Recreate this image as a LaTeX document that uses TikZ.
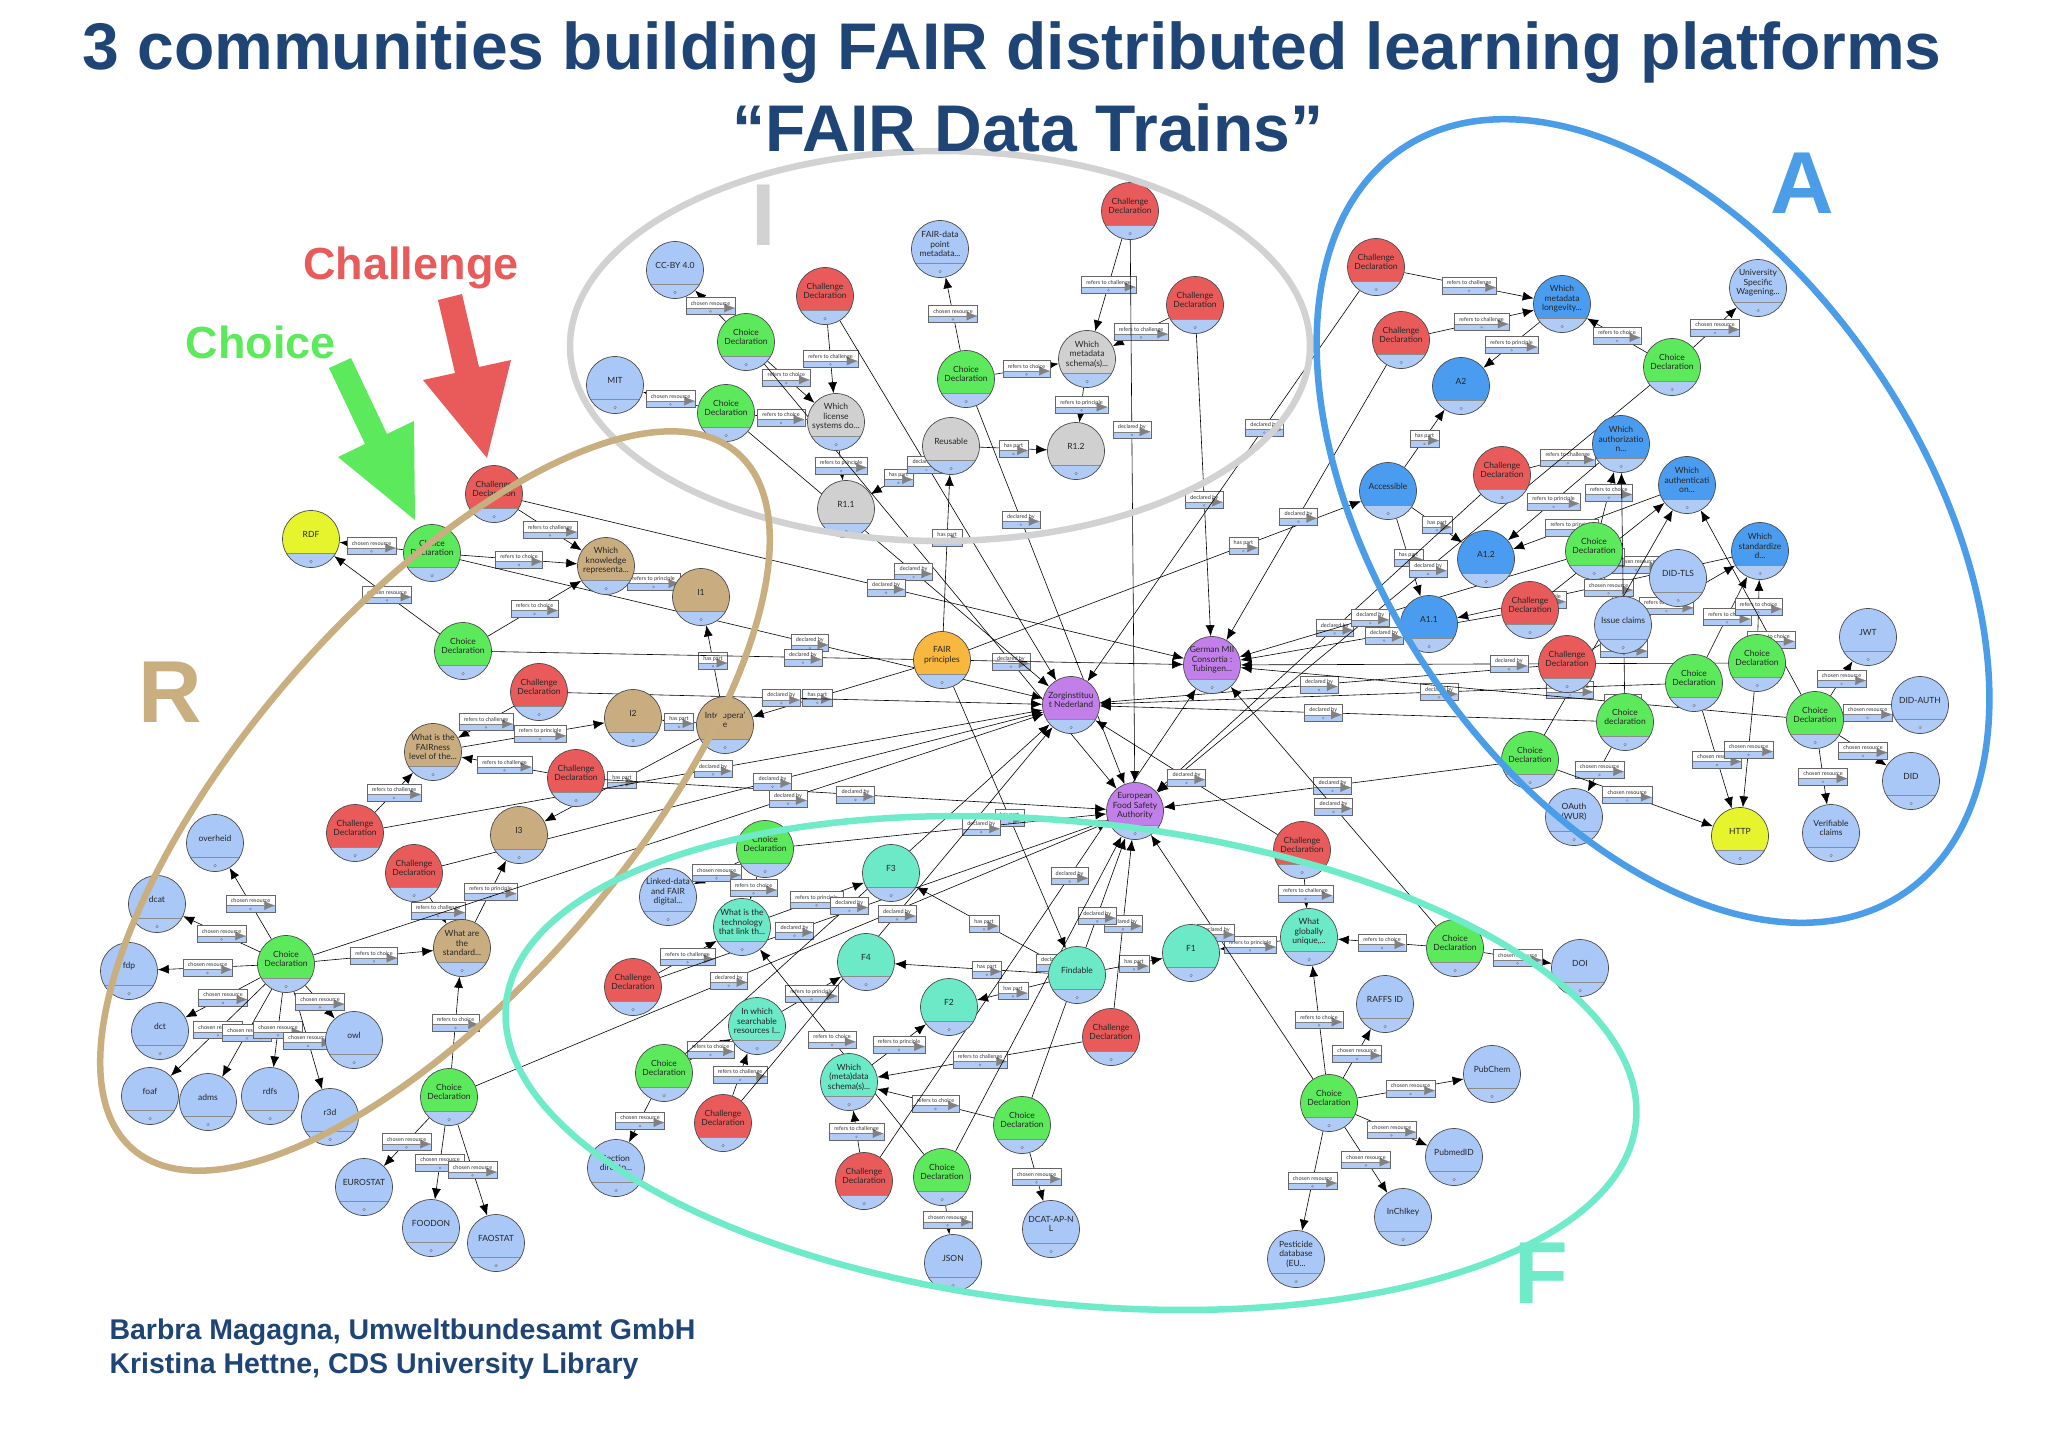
\documentclass[tikz,border=0pt]{standalone}
\usepackage{fontspec}
\setmainfont{Lato}
\newfontfamily\headfont{Liberation Sans}
\usetikzlibrary{arrows.meta,shapes}
\pgfdeclarelayer{bg}
\pgfdeclarelayer{fg}
\pgfsetlayers{bg,main,fg}
\definecolor{chred}{HTML}{E95B5B}
\definecolor{chgreen}{HTML}{5CEA5C}
\definecolor{resblue}{HTML}{A9C8F8}
\definecolor{stripe}{HTML}{AFCBF6}
\definecolor{qblue}{HTML}{4A9CF0}
\definecolor{greyq}{HTML}{D0D0D0}
\definecolor{tanq}{HTML}{C9AD80}
\definecolor{tealq}{HTML}{6CE9C7}
\definecolor{purpq}{HTML}{C27FE9}
\definecolor{orangeq}{HTML}{F8B73F}
\definecolor{yellowq}{HTML}{E6F42E}
\definecolor{titleblue}{HTML}{1F4476}
\definecolor{ringA}{HTML}{4B9DE8}
\definecolor{ringI}{HTML}{D2D2D2}
\definecolor{ringR}{HTML}{C9AF80}
\definecolor{ringF}{HTML}{6FEBC9}
\tikzstyle{knot} = [circle, draw=black!70, line width=0.7pt, minimum size=57pt, inner sep=0pt,
  path picture={\fill[stripe] (path picture bounding box.south west) rectangle ([yshift=14pt]path picture bounding box.south east);
  \draw[black!45, line width=0.4pt] ([yshift=14pt]path picture bounding box.south west) -- ([yshift=14pt]path picture bounding box.south east);
  \draw[black!55, line width=0.3pt] ([yshift=6pt]path picture bounding box.south) circle (1.3pt);}]
\tikzstyle{ktext} = [align=center, font=\fontsize{8.5}{9.5}\selectfont, text=black!85, inner sep=0pt, yshift=5pt]
\tikzstyle{chal} = [knot, fill=chred, label={[ktext]center:{Challenge\\Declaration}}]
\tikzstyle{choi} = [knot, fill=chgreen, label={[ktext]center:{Choice\\Declaration}}]
\tikzstyle{res} = [knot, fill=resblue]
\tikzstyle{elab} = [rectangle, draw=black!60, fill=white, line width=0.4pt, inner xsep=5pt, inner ysep=1pt,
  minimum height=17pt, font=\fontsize{5.5}{6}\selectfont, text=black!80, text height=4pt, text depth=6pt,
  path picture={\fill[stripe] (path picture bounding box.south west) rectangle ([yshift=6.5pt]path picture bounding box.south east);
  \draw[black!50, line width=0.3pt] ([yshift=6.5pt]path picture bounding box.south west) -- ([yshift=6.5pt]path picture bounding box.south east);
  \draw[black!50, line width=0.3pt] ([yshift=3.2pt]path picture bounding box.south) circle (1pt);}]
\tikzstyle{arrow} = [line width=0.6pt, -{Latex[length=11pt,width=9pt]}]
\tikzstyle{ring} = [line width=6.5pt]
\tikzstyle{letter} = [font=\headfont\bfseries\fontsize{88}{90}\selectfont]

\begin{document}
\begin{tikzpicture}[x=1pt,y=-1pt]
\useasboundingbox (0,0) rectangle (2048,1448);

\node[res, label={[ktext]center:{CC-BY 4.0}}] (ccby) at (675,270) {};
\node[chal] (chI1) at (825,296) {};
\node[choi] (chcI1) at (746,342) {};
\node[res, label={[ktext]center:MIT}] (mit) at (615,385) {};
\node[choi] (chcI2) at (726,413) {};
\node[knot, fill=greyq, label={[ktext]center:{Which\\license\\systems do...}}] (qlic) at (836,422) {};
\node[res, label={[ktext]center:{FAIR-data\\point\\metadata...}}] (fairdp) at (940,249) {};
\node[choi] (chcI3) at (966,379) {};
\node[chal] (chI2) at (1130,211) {};
\node[knot, fill=greyq, label={[ktext]center:{Which\\metadata\\schema(s)...}}] (qmeta) at (1087,359) {};
\node[chal] (chI3) at (1195,305) {};
\node[knot, fill=greyq, label={[ktext]center:Reusable}] (reus) at (951,446) {};
\node[knot, fill=greyq, label={[ktext]center:R1.2}] (r12) at (1076,451) {};
\node[knot, fill=greyq, label={[ktext]center:R1.1}] (r11) at (846,509) {};

\node[knot, fill=orangeq, label={[ktext]center:{FAIR\\principles}}] (fairp) at (942,660) {};
\node[knot, fill=purpq, label={[ktext]center:{Zorginstituu\\t Nederland}}] (zorg) at (1071,705) {};
\node[knot, fill=purpq, label={[ktext]center:{German MII\\Consortia :\\Tubingen...}}] (gmii) at (1212,665) {};
\node[knot, fill=purpq, label={[ktext]center:{European\\Food Safety\\Authority}}] (efsa) at (1135,811) {};

\node[chal] (chA1) at (1376,267) {};
\node[chal] (chA2) at (1401,340) {};
\node[knot, fill=qblue, label={[ktext]center:{Which\\metadata\\longevity...}}] (qlong) at (1562,304) {};
\node[knot, fill=qblue, label={[ktext]center:A2}] (a2) at (1461,386) {};
\node[res, label={[ktext]center:{University\\Specific\\Wagening...}}] (univ) at (1758,288) {};
\node[choi] (chcA1) at (1672,367) {};
\node[knot, fill=qblue, label={[ktext]center:Accessible}] (acc) at (1388,491) {};
\node[knot, fill=qblue, label={[ktext]center:{Which\\authorizatio\\n...}}] (qauthz) at (1621,444) {};
\node[chal] (chA3) at (1502,475) {};
\node[knot, fill=qblue, label={[ktext]center:{Which\\authenticati\\on...}}] (qauthn) at (1687,485) {};
\node[knot, fill=qblue, label={[ktext]center:A1.2}] (a12) at (1486,559) {};
\node[choi] (chcA2) at (1594,551) {};
\node[res, label={[ktext]center:DID-TLS}] (didtls) at (1678,578) {};
\node[knot, fill=qblue, label={[ktext]center:{Which\\standardize\\d...}}] (qstd) at (1760,551) {};
\node[knot, fill=qblue, label={[ktext]center:A1.1}] (a11) at (1429,624) {};
\node[chal] (chA4) at (1530,610) {};
\node[res, label={[ktext]center:{Issue claims}}] (issue) at (1623,625) {};
\node[chal] (chA5) at (1567,664) {};
\node[choi] (chcA3) at (1694,683) {};
\node[choi] (chcA4) at (1757,663) {};
\node[knot, fill=chgreen, label={[ktext]center:{Choice\\declaration}}] (chcA5) at (1625,722) {};
\node[choi] (chcA6) at (1815,720) {};
\node[choi] (chcA7) at (1530,760) {};
\node[res, label={[ktext]center:{OAuth\\(WUR)}}] (oauth) at (1574,817) {};
\node[knot, fill=yellowq, label={[ktext]center:HTTP}] (http) at (1740,836) {};
\node[res, label={[ktext]center:{Verifiable\\claims}}] (verif) at (1831,833) {};
\node[res, label={[ktext]center:JWT}] (jwt) at (1868,637) {};
\node[res, label={[ktext]center:DID-AUTH}] (didauth) at (1920,705) {};
\node[res, label={[ktext]center:DID}] (did) at (1911,781) {};

\node[chal] (chR1) at (494,494) {};
\node[knot, fill=yellowq, label={[ktext]center:RDF}] (rdf) at (311,539) {};
\node[choi] (chcR1) at (432,553) {};
\node[knot, fill=tanq, label={[ktext]center:{Which\\knowledge\\representa...}}] (qknow) at (606,566) {};
\node[knot, fill=tanq, label={[ktext]center:I1}] (i1) at (701,597) {};
\node[choi] (chcR2) at (463,651) {};
\node[chal] (chR2) at (539,692) {};
\node[knot, fill=tanq, label={[ktext]center:I2}] (i2) at (633,718) {};
\node[knot, fill=tanq, label={[ktext]center:{Interopera'\\e}}] (interop) at (725,725) {};
\node[knot, fill=tanq, label={[ktext]center:{What is the\\FAIRness\\level of the...}}] (qfair) at (433,752) {};
\node[chal] (chR3) at (576,778) {};
\node[chal] (chR4) at (355,833) {};
\node[knot, fill=tanq, label={[ktext]center:I3}] (i3) at (519,835) {};
\node[chal] (chR5) at (414,873) {};
\node[res, label={[ktext]center:overheid}] (overheid) at (215,843) {};
\node[res, label={[ktext]center:dcat}] (dcat) at (157,904) {};
\node[res, label={[ktext]center:fdp}] (fdp) at (129,971) {};
\node[choi] (chcR3) at (286,964) {};
\node[knot, fill=tanq, label={[ktext]center:{What are\\the\\standard...}}] (qstdR) at (462,948) {};
\node[res, label={[ktext]center:dct}] (dct) at (160,1031) {};
\node[res, label={[ktext]center:owl}] (owl) at (354,1040) {};
\node[res, label={[ktext]center:foaf}] (foaf) at (150,1096) {};
\node[res, label={[ktext]center:adms}] (adms) at (208,1102) {};
\node[res, label={[ktext]center:rdfs}] (rdfs) at (270,1096) {};
\node[res, label={[ktext]center:r3d}] (r3d) at (330,1117) {};
\node[choi] (chcR4) at (449,1097) {};
\node[res, label={[ktext]center:EUROSTAT}] (eurostat) at (364,1187) {};
\node[res, label={[ktext]center:FOODON}] (foodon) at (431,1228) {};
\node[res, label={[ktext]center:FAOSTAT}] (faostat) at (496,1243) {};

\node[choi] (chcF1) at (765,849) {};
\node[res, label={[ktext]center:{Linked-data\\and FAIR\\digital...}}] (linked) at (668,897) {};
\node[knot, fill=tealq, label={[ktext]center:F3}] (f3) at (891,873) {};
\node[knot, fill=tealq, label={[ktext]center:{What is the\\technology\\that link th...}}] (qtech) at (742,927) {};
\node[chal] (chF1) at (633,987) {};
\node[knot, fill=tealq, label={[ktext]center:F4}] (f4) at (866,962) {};
\node[knot, fill=tealq, label={[ktext]center:Findable}] (findable) at (1077,975) {};
\node[knot, fill=tealq, label={[ktext]center:F2}] (f2) at (949,1007) {};
\node[knot, fill=tealq, label={[ktext]center:F1}] (f1) at (1191,953) {};
\node[knot, fill=tealq, label={[ktext]center:{In which\\searchable\\resources I...}}] (qsearch) at (757,1026) {};
\node[choi] (chcF2) at (664,1073) {};
\node[chal] (chF2) at (1111,1037) {};
\node[knot, fill=tealq, label={[ktext]center:{Which\\(meta)data\\schema(s)...}}] (qmetaF) at (849,1082) {};
\node[choi] (chcF3) at (1022,1125) {};
\node[chal] (chF3) at (723,1123) {};
\node[chal] (chF4) at (864,1181) {};
\node[choi] (chcF4) at (942,1177) {};
\node[res, label={[ktext]center:{Section\\directo...}}] (sectdir) at (616,1168) {};
\node[res, label={[ktext]center:JSON}] (json) at (953,1263) {};
\node[res, label={[ktext]center:{DCAT-AP-N\\L}}] (dcatap) at (1051,1229) {};
\node[chal] (chF5) at (1302,850) {};
\node[knot, fill=tealq, label={[ktext]center:{What\\globally\\unique,...}}] (qglob) at (1309,937) {};
\node[choi] (chcF5) at (1455,948) {};
\node[res, label={[ktext]center:DOI}] (doi) at (1580,968) {};
\node[res, label={[ktext]center:{RAFFS ID}}] (raffs) at (1385,1004) {};
\node[res, label={[ktext]center:PubChem}] (pubchem) at (1492,1074) {};
\node[choi] (chcF6) at (1329,1103) {};
\node[res, label={[ktext]center:PubmedID}] (pubmed) at (1454,1157) {};
\node[res, label={[ktext]center:InChIkey}] (inchi) at (1403,1217) {};
\node[res, label={[ktext]center:{Pesticide\\database\\(EU...}}] (pest) at (1296,1259) {};

\begin{pgfonlayer}{bg}
\fill[white] (0,0) rectangle (2048,1448);
\draw[arrow] (chcI1) -- node[elab]{chosen resource} (ccby);
\draw[arrow] (chcI2) -- node[elab]{chosen resource} (mit);
\draw[arrow] (chcI1) -- node[elab, pos=0.4]{refers to choice} (qlic);
\draw[arrow] (chcI2) -- node[elab]{refers to choice} (qlic);
\draw[arrow] (chI1) -- node[elab]{refers to challenge} (qlic);
\draw[arrow] (qlic) -- node[elab]{refers to principle} (r11);
\draw[arrow] (reus) -- node[elab]{has part} (r11);
\draw[arrow] (reus) -- node[elab]{has part} (r12);
\draw[arrow] (chcI3) -- node[elab]{chosen resource} (fairdp);
\draw[arrow] (chcI3) -- node[elab]{refers to choice} (qmeta);
\draw[arrow] (chI2) -- node[elab]{refers to challenge} (qmeta);
\draw[arrow] (chI3) -- node[elab]{refers to challenge} (qmeta);
\draw[arrow] (qmeta) -- node[elab]{refers to principle} (r12);
\draw[arrow] (fairp) -- node[elab, pos=0.6]{has part} (reus);
\draw[arrow] (fairp) -- node[elab, pos=0.6]{has part} (interop);
\draw[arrow] (fairp) -- node[elab, pos=0.7]{has part} (acc);
\draw[arrow] (fairp) -- node[elab, pos=0.5]{has part} (findable);

\draw[arrow] (chA1) -- node[elab]{refers to challenge} (qlong);
\draw[arrow] (chA2) -- node[elab]{refers to challenge} (qlong);
\draw[arrow] (qlong) -- node[elab]{refers to principle} (a2);
\draw[arrow] (chcA1) -- node[elab]{refers to choice} (qlong);
\draw[arrow] (chcA1) -- node[elab]{chosen resource} (univ);
\draw[arrow] (acc) -- node[elab]{has part} (a2);
\draw[arrow] (acc) -- node[elab]{has part} (a12);
\draw[arrow] (acc) -- node[elab]{has part} (a11);
\draw[arrow] (chA3) -- node[elab, pos=0.6]{refers to challenge} (qauthz);
\draw[arrow] (qauthz) -- node[elab]{refers to principle} (a12);
\draw[arrow] (qauthn) -- node[elab, pos=0.6]{refers to principle} (a12);
\draw[arrow] (qstd) -- node[elab, pos=0.7]{refers to principle} (a11);
\draw[arrow] (chcA2) -- node[elab, pos=0.6]{refers to choice} (qauthz);
\draw[arrow] (chcA2) -- node[elab]{chosen resource} (didtls);
\draw[arrow] (chcA2) -- node[elab]{chosen resource} (issue);
\draw[arrow] (chA4) -- node[elab, pos=0.4]{refers to challenge} (qauthn);
\draw[arrow] (chA5) -- node[elab, pos=0.52]{refers to challenge} (qstd);
\draw[arrow] (chcA5) -- node[elab, pos=0.2]{refers to choice} (qauthz);
\draw[arrow] (chcA5) -- node[elab]{chosen resource} (oauth);
\draw[arrow] (chcA7) -- node[elab, pos=0.2]{refers to choice} (qauthn);
\draw[arrow] (chcA7) -- node[elab, pos=0.45]{chosen resource} (http);
\draw[arrow] (chcA3) -- node[elab]{refers to choice} (qstd);
\draw[arrow] (chcA3) -- node[elab]{chosen resource} (http);
\draw[arrow] (chcA4) -- node[elab]{refers to choice} (qstd);
\draw[arrow] (chcA4) -- node[elab]{chosen resource} (http);
\draw[arrow] (chcA6) -- node[elab, pos=0.3]{refers to choice} (qauthn);
\draw[arrow] (chcA6) -- node[elab]{chosen resource} (jwt);
\draw[arrow] (chcA6) -- node[elab]{chosen resource} (didauth);
\draw[arrow] (chcA6) -- node[elab]{chosen resource} (did);
\draw[arrow] (chcA6) -- node[elab]{chosen resource} (verif);

\draw[arrow] (chR1) -- node[elab]{refers to challenge} (qknow);
\draw[arrow] (chcR1) -- node[elab]{refers to choice} (qknow);
\draw[arrow] (chcR1) -- node[elab]{chosen resource} (rdf);
\draw[arrow] (chcR2) -- node[elab]{chosen resource} (rdf);
\draw[arrow] (chcR2) -- node[elab]{refers to choice} (qknow);
\draw[arrow] (qknow) -- node[elab]{refers to principle} (i1);
\draw[arrow] (interop) -- node[elab]{has part} (i1);
\draw[arrow] (interop) -- node[elab]{has part} (i2);
\draw[arrow] (interop) -- node[elab, pos=0.5]{has part} (i3);
\draw[arrow] (chR2) -- node[elab]{refers to challenge} (qfair);
\draw[arrow] (qfair) -- node[elab, pos=0.55]{refers to principle} (i2);
\draw[arrow] (chR3) -- node[elab]{refers to challenge} (qfair);
\draw[arrow] (chR4) -- node[elab]{refers to challenge} (qfair);
\draw[arrow] (chR5) -- node[elab]{refers to challenge} (qstdR);
\draw[arrow] (qstdR) -- node[elab]{refers to principle} (i3);
\draw[arrow] (chcR3) -- node[elab]{refers to choice} (qstdR);
\draw[arrow] (chcR4) -- node[elab]{refers to choice} (qstdR);
\draw[arrow] (chcR3) -- node[elab]{chosen resource} (overheid);
\draw[arrow] (chcR3) -- node[elab]{chosen resource} (dcat);
\draw[arrow] (chcR3) -- node[elab]{chosen resource} (fdp);
\draw[arrow] (chcR3) -- node[elab]{chosen resource} (dct);
\draw[arrow] (chcR3) -- node[elab]{chosen resource} (foaf);
\draw[arrow] (chcR3) -- node[elab]{chosen resource} (adms);
\draw[arrow] (chcR3) -- node[elab]{chosen resource} (rdfs);
\draw[arrow] (chcR3) -- node[elab]{chosen resource} (r3d);
\draw[arrow] (chcR3) -- node[elab]{chosen resource} (owl);
\draw[arrow] (chcR4) -- node[elab]{chosen resource} (eurostat);
\draw[arrow] (chcR4) -- node[elab]{chosen resource} (foodon);
\draw[arrow] (chcR4) -- node[elab]{chosen resource} (faostat);

\draw[arrow] (chcF1) -- node[elab]{chosen resource} (linked);
\draw[arrow] (chcF1) -- node[elab]{refers to choice} (qtech);
\draw[arrow] (chF1) -- node[elab]{refers to challenge} (qtech);
\draw[arrow] (qtech) -- node[elab]{refers to principle} (f3);
\draw[arrow] (findable) -- node[elab]{has part} (f3);
\draw[arrow] (findable) -- node[elab, pos=0.4]{has part} (f4);
\draw[arrow] (findable) -- node[elab]{has part} (f2);
\draw[arrow] (findable) -- node[elab]{has part} (f1);
\draw[arrow] (qsearch) -- node[elab]{refers to principle} (f4);
\draw[arrow] (chcF2) -- node[elab]{refers to choice} (qsearch);
\draw[arrow] (chF3) -- node[elab]{refers to challenge} (qsearch);
\draw[arrow] (chcF2) -- node[elab]{chosen resource} (sectdir);
\draw[arrow] (qmetaF) -- node[elab]{refers to principle} (f2);
\draw[arrow] (chF4) -- node[elab]{refers to challenge} (qmetaF);
\draw[arrow] (chF2) -- node[elab]{refers to challenge} (qmetaF);
\draw[arrow] (chcF3) -- node[elab]{refers to choice} (qmetaF);
\draw[arrow] (chcF4) -- node[elab, pos=0.56]{refers to choice} (qtech);
\draw[arrow] (chcF4) -- node[elab]{chosen resource} (json);
\draw[arrow] (chcF3) -- node[elab]{chosen resource} (dcatap);
\draw[arrow] (chF5) -- node[elab]{refers to challenge} (qglob);
\draw[arrow] (qglob) -- node[elab]{refers to principle} (f1);
\draw[arrow] (chcF5) -- node[elab]{refers to choice} (qglob);
\draw[arrow] (chcF5) -- node[elab]{chosen resource} (doi);
\draw[arrow] (chcF6) -- node[elab]{refers to choice} (qglob);
\draw[arrow] (chcF6) -- node[elab]{chosen resource} (raffs);
\draw[arrow] (chcF6) -- node[elab]{chosen resource} (pubchem);
\draw[arrow] (chcF6) -- node[elab]{chosen resource} (pubmed);
\draw[arrow] (chcF6) -- node[elab]{chosen resource} (inchi);
\draw[arrow] (chcF6) -- node[elab]{chosen resource} (pest);

\draw[arrow] (chI1) -- node[elab, pos=0.4]{declared by} (zorg);
\draw[arrow] (chcI1) -- node[elab, pos=0.7]{declared by} (efsa);
\draw[arrow] (chcI2) -- node[elab, pos=0.55]{declared by} (zorg);
\draw[arrow] (chcI3) -- node[elab, pos=0.3]{declared by} (efsa);
\draw[arrow] (chI2) -- node[elab, pos=0.35]{declared by} (efsa);
\draw[arrow] (chI3) -- node[elab, pos=0.55]{declared by} (gmii);
\draw[arrow] (chA1) -- node[elab, pos=0.35]{declared by} (zorg);
\draw[arrow] (chA2) -- node[elab, pos=0.55]{declared by} (gmii);
\draw[arrow] (chA3) -- node[elab, pos=0.45]{declared by} (efsa);
\draw[arrow] (chA4) -- node[elab, pos=0.45]{declared by} (gmii);
\draw[arrow] (chA5) -- node[elab, pos=0.5]{declared by} (zorg);
\draw[arrow] (chcA1) -- node[elab, pos=0.45]{declared by} (efsa);
\draw[arrow] (chcA2) -- node[elab, pos=0.6]{declared by} (gmii);
\draw[arrow] (chcA3) -- node[elab, pos=0.4]{declared by} (zorg);
\draw[arrow] (chcA4) -- node[elab, pos=0.45]{declared by} (gmii);
\draw[arrow] (chcA5) -- node[elab, pos=0.55]{declared by} (zorg);
\draw[arrow] (chcA6) -- node[elab, pos=0.3]{declared by} (gmii);
\draw[arrow] (chcA7) -- node[elab, pos=0.5]{declared by} (efsa);
\draw[arrow] (chR1) -- node[elab, pos=0.55]{declared by} (gmii);
\draw[arrow] (chcR1) -- node[elab, pos=0.6]{declared by} (zorg);
\draw[arrow] (chcR2) -- node[elab, pos=0.45]{declared by} (gmii);
\draw[arrow] (chR2) -- node[elab, pos=0.45]{declared by} (zorg);
\draw[arrow] (chR3) -- node[elab, pos=0.5]{declared by} (efsa);
\draw[arrow] (chR4) -- node[elab, pos=0.5]{declared by} (zorg);
\draw[arrow] (chR5) -- node[elab, pos=0.55]{declared by} (zorg);
\draw[arrow] (chcR3) -- node[elab, pos=0.65]{declared by} (zorg);
\draw[arrow] (chcR4) -- node[elab, pos=0.4]{declared by} (efsa);
\draw[arrow] (chcF1) -- node[elab, pos=0.6]{declared by} (efsa);
\draw[arrow] (chF1) -- node[elab, pos=0.3]{declared by} (efsa);
\draw[arrow] (chcF2) -- node[elab, pos=0.45]{declared by} (zorg);
\draw[arrow] (chF2) -- node[elab, pos=0.5]{declared by} (efsa);
\draw[arrow] (chcF3) -- node[elab, pos=0.7]{declared by} (efsa);
\draw[arrow] (chF3) -- node[elab, pos=0.5]{declared by} (zorg);
\draw[arrow] (chF4) -- node[elab, pos=0.6]{declared by} (gmii);
\draw[arrow] (chcF4) -- node[elab, pos=0.6]{declared by} (efsa);
\draw[arrow] (chF5) -- node[elab, pos=0.5]{declared by} (zorg);
\draw[arrow] (chcF5) -- node[elab, pos=0.5]{declared by} (gmii);
\draw[arrow] (chcF6) -- node[elab, pos=0.6]{declared by} (efsa);
\end{pgfonlayer}

\begin{pgfonlayer}{fg}
\draw[ring, ringI] (940,346) ellipse [x radius=370pt, y radius=195pt];
\draw[ring, ringA, rotate around={-56:(1653,521)}] (1653,521) ellipse [x radius=449pt, y radius=270pt];
\draw[ring, ringR, rotate around={49:(435,801)}] (435,801) ellipse [x radius=461pt, y radius=190pt];
\draw[ring, ringF, rotate around={-6:(1071,1063)}] (1071,1063) ellipse [x radius=568pt, y radius=241pt];
\fill[chgreen] (351,358) -- (387,434) -- (414,421) -- (415,520) -- (338,457) -- (365,444) -- (329,368) -- cycle;
\fill[chred] (462,294) -- (479,367) -- (511,360) -- (487,458) -- (423,380) -- (455,373) -- (438,300) -- cycle;
\node[font=\headfont\bfseries\fontsize{66}{70}\selectfont, text=titleblue] (title) at (1012,53) {3 communities building FAIR distributed learning platforms};
\node[font=\headfont\bfseries\fontsize{66}{70}\selectfont, text=titleblue] (subtitle) at (1028,128) {“FAIR Data Trains”};
\node[font=\headfont\bfseries\fontsize{45}{48}\selectfont, text=chred] (challenge) at (411,268) {Challenge};
\node[font=\headfont\bfseries\fontsize{45}{48}\selectfont, text=chgreen] (choice) at (261,342) {Choice};
\node[letter, text=ringA] (letA) at (1802,183) {A};
\node[letter, text=ringI] (letI) at (764,215) {I};
\node[letter, text=ringR] (letR) at (170,692) {R};
\node[letter, text=ringF] (letF) at (1541,1273) {F};
\node[anchor=west, align=left, font=\headfont\bfseries\fontsize{28.5}{34}\selectfont, text=titleblue] (credits) at (106,1349) {Barbra Magagna, Umweltbundesamt GmbH\\Kristina Hettne, CDS University Library};
\end{pgfonlayer}
\end{tikzpicture}
\end{document}
